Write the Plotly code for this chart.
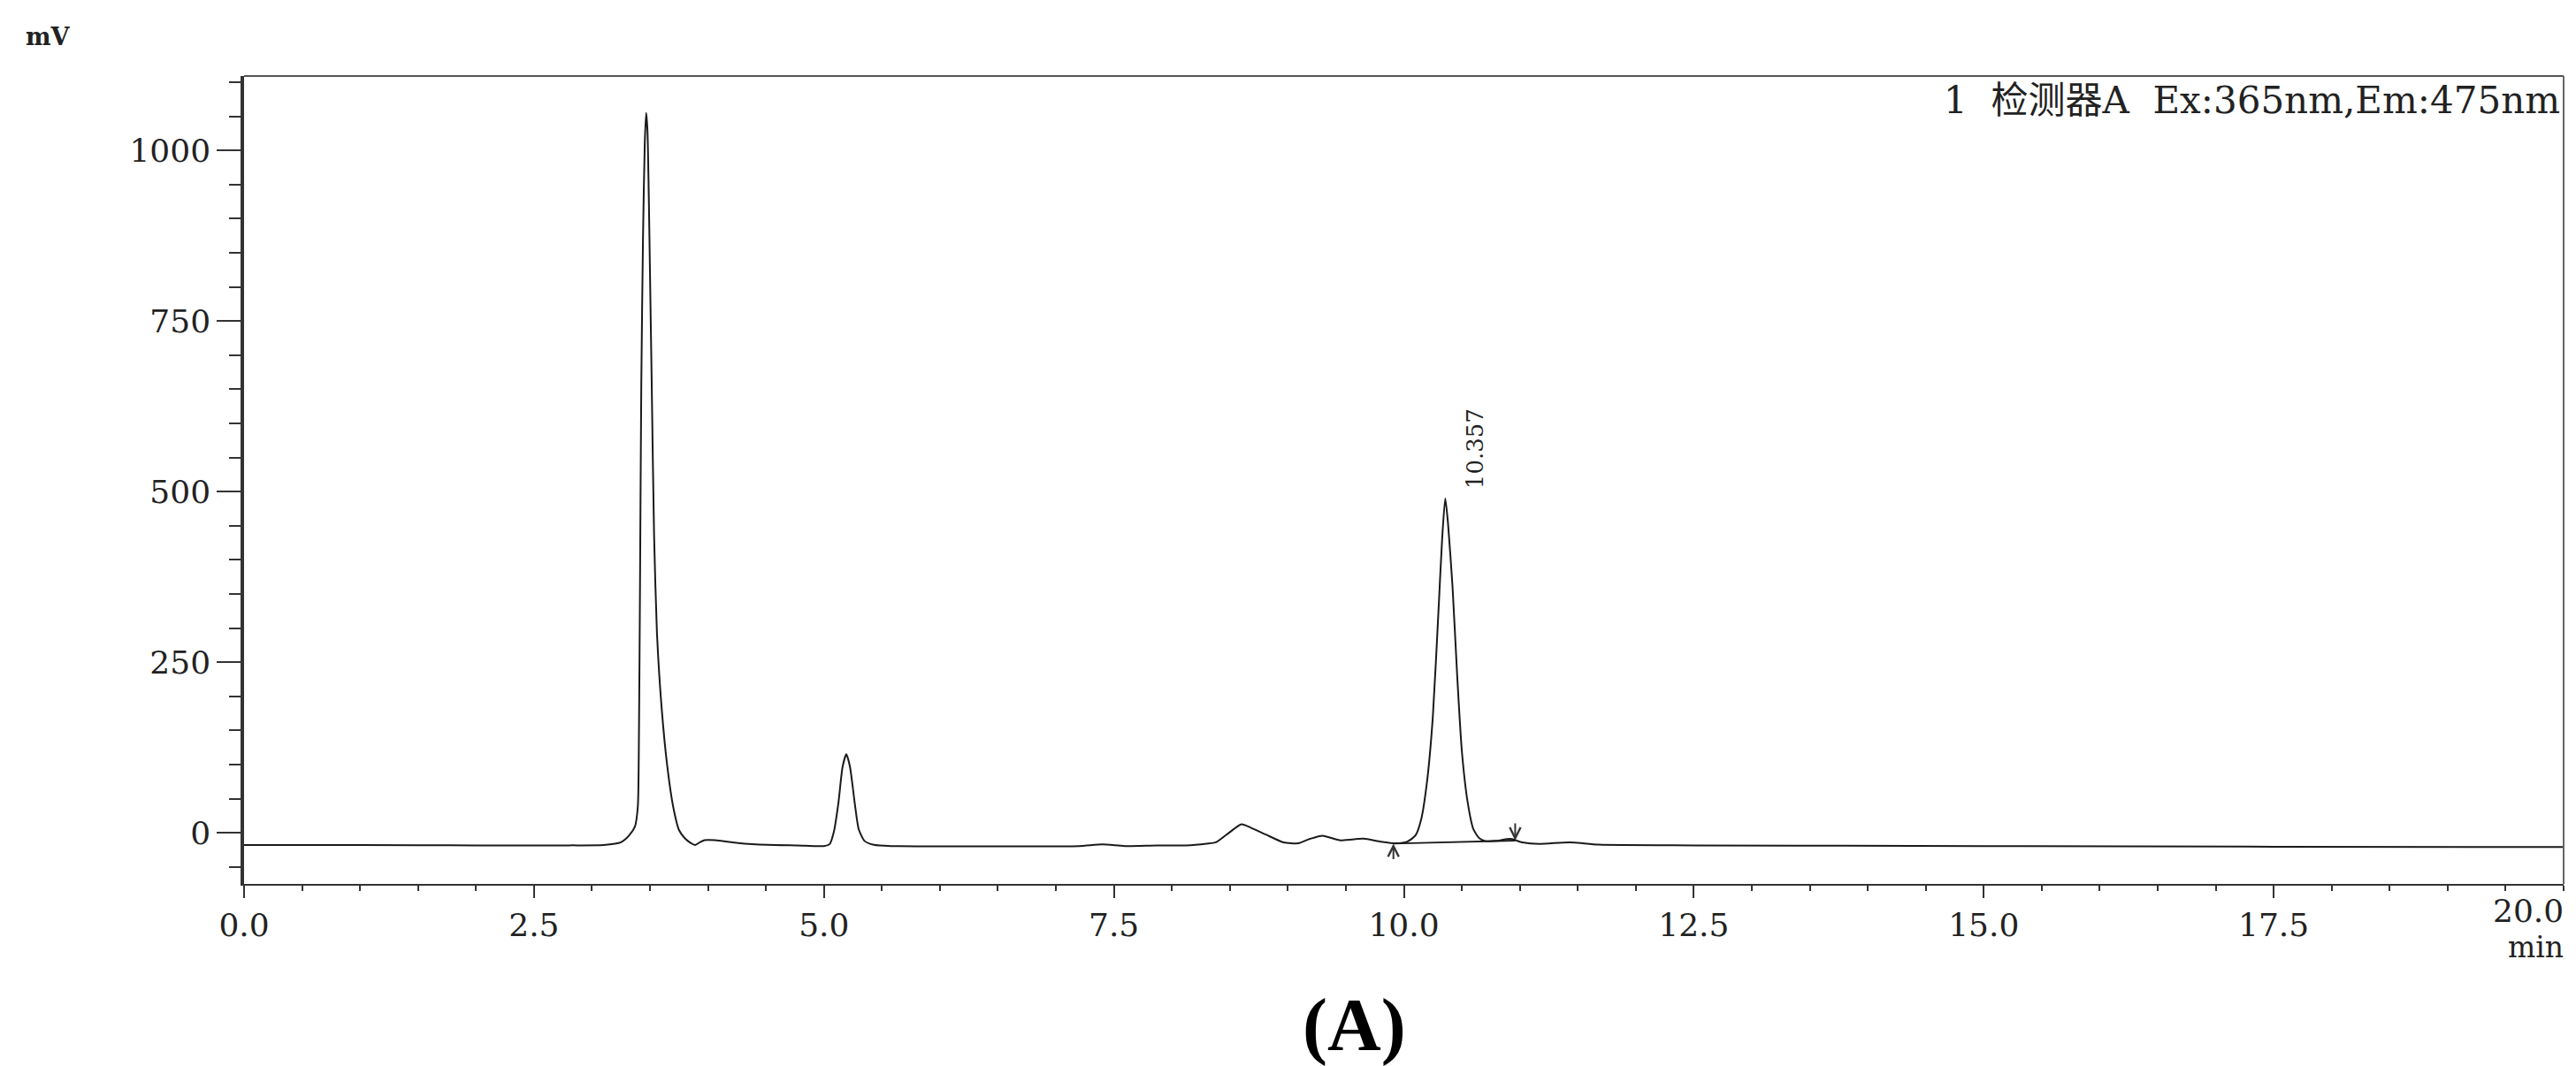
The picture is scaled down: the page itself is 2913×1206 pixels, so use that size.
import plotly.graph_objects as go

# ---- data ----
time_min = [0.00, 1.00, 2.00, 2.80, 3.10, 3.25, 3.32, 3.37, 3.395, 3.405, 3.414, 3.425, 3.44, 3.455,
            3.467, 3.478, 3.49, 3.50, 3.515, 3.535, 3.56, 3.60, 3.65, 3.70, 3.75, 3.80, 3.85, 3.89,
            3.93, 3.97, 4.06, 4.26, 4.51, 4.77, 5.00, 5.05, 5.085, 5.125, 5.16, 5.193, 5.225, 5.265,
            5.30, 5.35, 5.43, 5.58, 6.50, 7.20, 7.40, 7.60, 7.87, 8.12, 8.30, 8.38, 8.50, 8.60, 8.68,
            8.81, 8.96, 9.09, 9.19, 9.30, 9.445, 9.65, 9.80, 9.93, 10.03, 10.10, 10.15, 10.20, 10.25,
            10.30, 10.33, 10.357, 10.38, 10.42, 10.46, 10.50, 10.55, 10.60, 10.65, 10.70, 10.79,
            10.92, 11.02, 11.17, 11.43, 11.68, 12.50, 15.00, 17.50, 20.00]
signal_mv = [-18, -18, -18.5, -18.5, -18, -14, -4, 9, 38, 148, 365, 657, 875, 1010,
             1055, 1030, 930, 820, 657, 438, 293, 184, 96, 38, 4, -8, -15, -18,
             -14, -11, -11, -15, -17.7, -18.6, -19.5, -16.5, 1, 44, 96, 115, 96, 44,
             5, -12, -17.7, -19.5, -20, -19.5, -17, -19.5, -18.6, -18.6, -16, -14, 1, 12.5, 7.5,
             -2.6, -14, -15.5, -9, -4.3, -11, -8.6, -13, -15.5, -13, -4, 20, 75, 170,
             330, 430, 490, 455, 360, 230, 120, 45, 5, -8, -12, -12,
             -9, -14, -16.4, -14, -17.4, -18.5, -19.5, -20.5, -21]

peak_rt = 10.357
peak_height = 490
peak_label = "10.357"
integ_time = [9.91, 10.96]
integ_mv = [-16.0, -11.5]

x_tick_vals = [0.0, 2.5, 5.0, 7.5, 10.0, 12.5, 15.0, 17.5, 20.0]
x_tick_text = ["0.0", "2.5", "5.0", "7.5", "10.0", "12.5", "15.0", "17.5", "20.0"]
y_tick_vals = [0, 250, 500, 750, 1000]
y_tick_text = ["0", "250", "500", "750", "1000"]

header_text = "1  检测器A  Ex:365nm,Em:475nm"

SERIF = "DejaVu Serif, Liberation Serif, serif"
TICK_SIZE = 36

fig = go.Figure()
fig.add_trace(go.Scatter(x=time_min, y=signal_mv, mode="lines",
                         line=dict(color="#1a1a1a", width=2, shape="spline", smoothing=0.6),
                         showlegend=False, hoverinfo="skip"))
fig.add_trace(go.Scatter(x=integ_time, y=integ_mv, mode="lines",
                         line=dict(color="#1a1a1a", width=1.8),
                         showlegend=False, hoverinfo="skip"))

# integration start / end arrows
fig.add_annotation(x=integ_time[0], y=integ_mv[0], ax=0, ay=19, showarrow=True, text="",
                   arrowhead=5, arrowsize=1.2, arrowwidth=2, arrowcolor="#333")
fig.add_annotation(x=integ_time[1], y=integ_mv[1], ax=0, ay=-21, showarrow=True, text="",
                   arrowhead=5, arrowsize=1.2, arrowwidth=2, arrowcolor="#333")

# peak retention time label
fig.add_annotation(x=peak_rt, y=peak_height, text=peak_label, showarrow=False, textangle=-90,
                   xanchor="center", yanchor="middle", xshift=34, yshift=56,
                   font=dict(family=SERIF, size=26, color="#222"))

# detector header
fig.add_annotation(xref="paper", yref="paper", x=1, y=1, xanchor="right", yanchor="top",
                   text=header_text, showarrow=False, xshift=-2, yshift=-1,
                   font=dict(family="DejaVu Serif, Noto Sans CJK SC", size=42, color="#222"))

# axis unit labels
fig.add_annotation(xref="paper", yref="paper", x=-0.0843, y=1.049, text="<b>mV</b>", showarrow=False,
                   xanchor="center", yanchor="middle",
                   font=dict(family=SERIF, size=27, color="#222"))
fig.add_annotation(xref="paper", yref="paper", x=1, y=0, text="min", showarrow=False,
                   xanchor="right", yanchor="top", xshift=2, yshift=-50,
                   font=dict(family=SERIF, size=33, color="#222"))

# last x tick label sits right-aligned at the axis end
fig.add_annotation(x=x_tick_vals[-1], xref="x", yref="paper", y=0, text=x_tick_text[-1],
                   showarrow=False, xanchor="right", yanchor="top", yshift=-8, xshift=2,
                   font=dict(family=SERIF, size=TICK_SIZE, color="#222"))

# panel label
fig.add_annotation(xref="paper", yref="paper", x=0.4785, y=-0.175, text="<b>(A)</b>", showarrow=False,
                   xanchor="center", yanchor="middle",
                   font=dict(family="Liberation Serif, Times New Roman, serif", size=84, color="#000"))

# top and right frame lines
fig.add_shape(type="line", xref="paper", yref="paper", x0=0, x1=1, y0=1, y1=1,
              line=dict(color="#555", width=2))
fig.add_shape(type="line", xref="paper", yref="paper", x0=1, x1=1, y0=0, y1=1,
              line=dict(color="#666", width=2))

fig.update_xaxes(range=[0, 20], tickvals=x_tick_vals[:-1], ticktext=x_tick_text[:-1],
                 ticks="outside", ticklen=14, tickwidth=2, tickcolor="#333",
                 minor=dict(ticks="outside", dtick=0.5, tick0=0, ticklen=6, tickwidth=2, tickcolor="#333"),
                 showline=True, linecolor="#333", linewidth=2, showgrid=False, zeroline=False,
                 tickfont=dict(family=SERIF, size=TICK_SIZE, color="#222"))
fig.update_yaxes(range=[-75, 1109], tickvals=y_tick_vals, ticktext=y_tick_text,
                 ticks="outside", ticklen=27, tickwidth=2, tickcolor="#333",
                 minor=dict(ticks="outside", dtick=50, tick0=0, ticklen=13, tickwidth=2, tickcolor="#333"),
                 showline=True, linecolor="#333", linewidth=3.5, showgrid=False, zeroline=False,
                 tickfont=dict(family=SERIF, size=TICK_SIZE, color="#222"))

fig.update_layout(width=2913, height=1206, autosize=False,
                  margin=dict(l=268, r=22, t=78, b=214),
                  paper_bgcolor="white", plot_bgcolor="white")

fig.write_html("out.html")
